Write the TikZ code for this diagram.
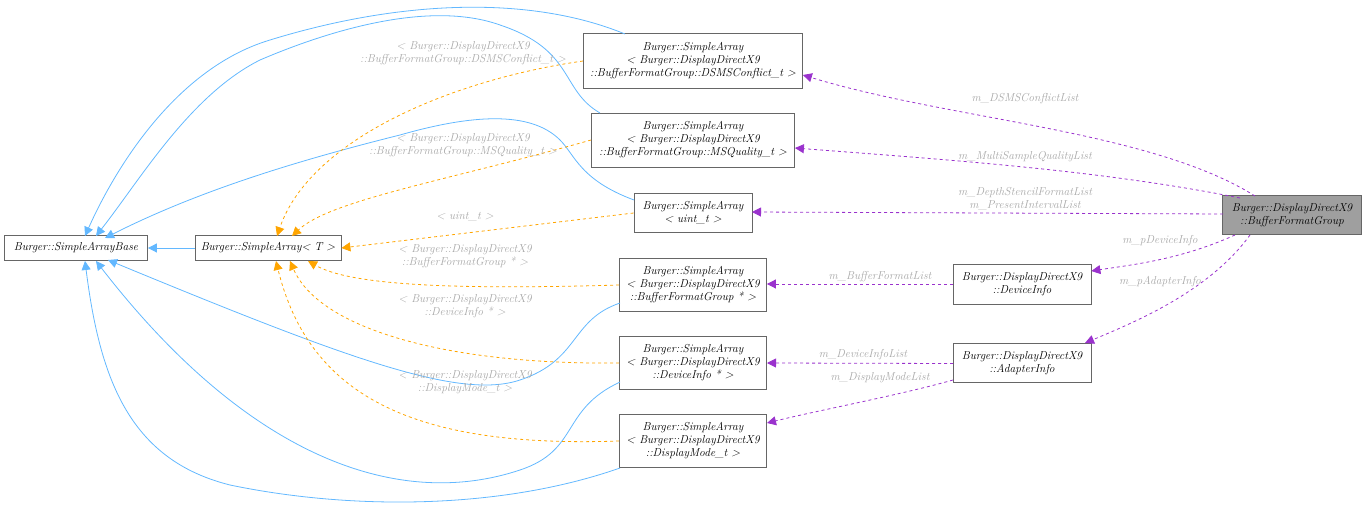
\documentclass[tikz,border=0pt]{standalone}
\usepackage{xcolor}
\usepackage{tikz}
\usetikzlibrary{arrows.meta}
\definecolor{inheritblue}{HTML}{63B8FF}
\definecolor{tmplorange}{HTML}{FFA500}
\definecolor{usepurple}{HTML}{9A32CD}
\definecolor{labelgray}{HTML}{A8A8A8}
\definecolor{boxgray}{HTML}{666666}
\begin{document}
\begin{tikzpicture}
   [
   x=1pt, y=-1pt,
   classbox/.style={rectangle, draw=boxgray, fill=white, thick, align=center, font=\fontsize{11.5}{13}\selectfont\itshape, inner sep=2pt},
   mainbox/.style={classbox, fill=gray!75},
   inherit/.style={draw=inheritblue, thick, -{Triangle[length=9pt, width=9pt]}},
   tmpl/.style={draw=tmplorange, thick, dashed, -{Triangle[length=9pt, width=9pt]}},
   member/.style={color=usepurple, thick, dashed, -{Triangle[length=9pt, width=9pt]}},
   edgelabel/.style={text=labelgray, align=center, font=\fontsize{11.5}{13}\selectfont\itshape},
   ]
 \useasboundingbox (0,0) rectangle (1368,510);
 \node at (76,248) [classbox, minimum width=143pt, minimum height=25pt] (base) {Burger::SimpleArrayBase};
 \node at (268,248) [classbox, minimum width=146pt, minimum height=25pt] (tmpl) {Burger::SimpleArray< T >};
 \node at (693,61) [classbox, minimum width=219pt, minimum height=55pt] (dsms) {Burger::SimpleArray\\< Burger::DisplayDirectX9\\::BufferFormatGroup::DSMSConflict\_t >};
 \node at (693,140) [classbox, minimum width=203pt, minimum height=54pt] (msq) {Burger::SimpleArray\\< Burger::DisplayDirectX9\\::BufferFormatGroup::MSQuality\_t >};
 \node at (693,213) [classbox, minimum width=118pt, minimum height=39pt] (uint) {Burger::SimpleArray\\< uint\_t >};
 \node at (693,285) [classbox, minimum width=147pt, minimum height=53pt] (bfgptr) {Burger::SimpleArray\\< Burger::DisplayDirectX9\\::BufferFormatGroup * >};
 \node at (693,363) [classbox, minimum width=147pt, minimum height=53pt] (devptr) {Burger::SimpleArray\\< Burger::DisplayDirectX9\\::DeviceInfo * >};
 \node at (693,441) [classbox, minimum width=147pt, minimum height=53pt] (mode) {Burger::SimpleArray\\< Burger::DisplayDirectX9\\::DisplayMode\_t >};
 \node at (1022,284) [classbox, minimum width=138pt, minimum height=40pt] (devinfo) {Burger::DisplayDirectX9\\::DeviceInfo};
 \node at (1022,363) [classbox, minimum width=138pt, minimum height=39pt] (adapter) {Burger::DisplayDirectX9\\::AdapterInfo};
 \node at (1292,215) [mainbox, minimum width=139pt, minimum height=39pt] (bfg) {Burger::DisplayDirectX9\\::BufferFormatGroup};
 % inheritance
 \draw[inherit] (tmpl) -- (base);
 \draw[inherit] (625,34) .. controls (530,-5) and (400,0) .. (270,40) .. controls (170,70) and (110,180) .. (85,236);
 \draw[inherit] (600,113) .. controls (560,90) and (575,50) .. (500,25) .. controls (430,0) and (330,30) .. (260,60) .. controls (190,95) and (140,180) .. (96,236);
 \draw[inherit] (634,200) .. controls (580,180) and (575,155) .. (560,140) .. controls (530,110) and (470,115) .. (400,135) .. controls (300,160) and (200,190) .. (105,238);
 \draw[inherit] (620,303) .. controls (570,320) and (580,360) .. (520,380) .. controls (460,400) and (350,360) .. (108,260);
 \draw[inherit] (620,382) .. controls (560,410) and (580,450) .. (520,470) .. controls (400,510) and (250,460) .. (96,261);
 \draw[inherit] (620,468) .. controls (500,510) and (350,510) .. (230,485) .. controls (130,460) and (100,380) .. (85,261);
 % template instances
 \draw[tmpl] (dsms.west) .. controls (450,80) and (310,140) .. (277,236);
 \draw[tmpl] (msq.west) .. controls (450,180) and (330,200) .. (292,236);
 \draw[tmpl] (uint.west) -- (tmpl.east);
 \draw[tmpl] (bfgptr.west) .. controls (450,290) and (350,285) .. (308,261);
 \draw[tmpl] (devptr.west) .. controls (450,365) and (320,330) .. (290,261);
 \draw[tmpl] (mode.west) .. controls (420,448) and (310,400) .. (276,261);
 \node at (463,53) [edgelabel] (ldsms) {< Burger::DisplayDirectX9\\::BufferFormatGroup::DSMSConflict\_t >};
 \node at (463,145) [edgelabel] (lmsq) {< Burger::DisplayDirectX9\\::BufferFormatGroup::MSQuality\_t >};
 \node at (465,217) [edgelabel] (luint) {< uint\_t >};
 \node at (465,256) [edgelabel] (lbfgptr) {< Burger::DisplayDirectX9\\::BufferFormatGroup * >};
 \node at (465,306) [edgelabel] (ldevptr) {< Burger::DisplayDirectX9\\::DeviceInfo * >};
 \node at (465,382) [edgelabel] (lmode) {< Burger::DisplayDirectX9\\::DisplayMode\_t >};
 % members
 \draw[member] (1255,196) .. controls (1150,130) and (950,120) .. (dsms.east |- 0,75);
 \draw[member] (1240,198) .. controls (1100,170) and (950,160) .. (msq.east |- 0,148);
 \draw[member] (1223,214) -- (752,212);
 \draw[member] (1235,235) .. controls (1180,260) and (1130,265) .. (devinfo.east |- 0,271);
 \draw[member] (1250,235) .. controls (1210,290) and (1140,320) .. (1085,343);
 \draw[member] (devinfo.west) -- (bfgptr.east |- 0,284);
 \draw[member] (953,363.5) -- (767,363);
 \draw[member] (953,380) .. controls (900,395) and (820,410) .. (767,423);
 \node at (1025,99) [edgelabel] (lm1) {m\_DSMSConflictList};
 \node at (1025,157) [edgelabel] (lm2) {m\_MultiSampleQualityList};
 \node at (1025,199) [edgelabel] (lm3) {m\_DepthStencilFormatList\\m\_PresentIntervalList};
 \node at (1160,241) [edgelabel] (lm4) {m\_pDeviceInfo};
 \node at (1160,282) [edgelabel] (lm5) {m\_pAdapterInfo};
 \node at (880,277) [edgelabel] (lm6) {m\_BufferFormatList};
 \node at (863,355) [edgelabel] (lm7) {m\_DeviceInfoList};
 \node at (880,378) [edgelabel] (lm8) {m\_DisplayModeList};
\end{tikzpicture}
\end{document}
